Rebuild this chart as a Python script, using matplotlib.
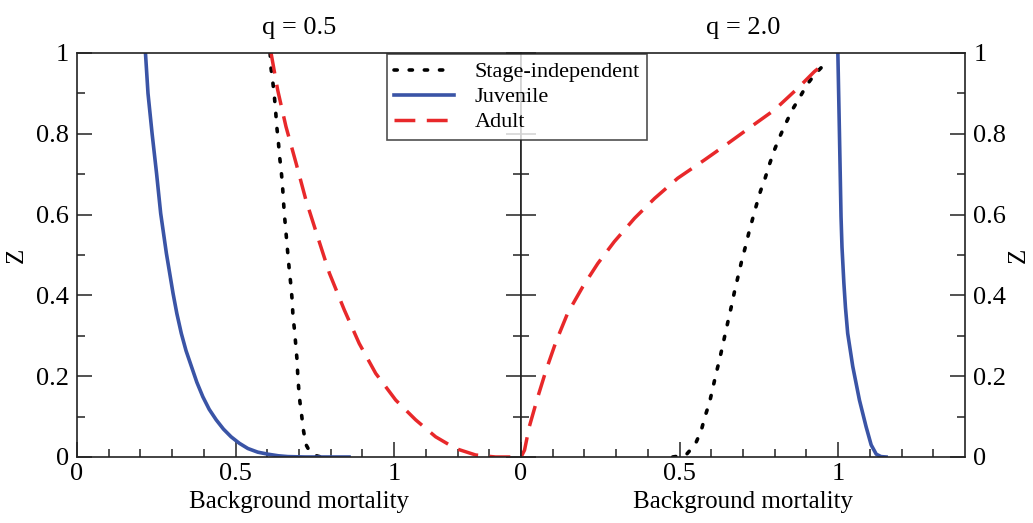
import matplotlib
matplotlib.use('Agg')
import matplotlib.pyplot as plt
from matplotlib.lines import Line2D

plt.rcParams['font.family'] = ['Liberation Serif', 'DejaVu Serif']

# ---- data (x = background mortality, y = Z) ----
# q = 0.5
juv_a_x = [0.216, 0.224, 0.237, 0.251, 0.264, 0.282, 0.303, 0.315, 0.329, 0.344,
           0.361, 0.378, 0.397, 0.417, 0.439, 0.462, 0.486, 0.512, 0.539, 0.570,
           0.602, 0.635, 0.665, 0.720, 0.858]
juv_a_z = [1.0, 0.90, 0.80, 0.702, 0.603, 0.504, 0.405, 0.355, 0.306, 0.263,
           0.224, 0.185, 0.149, 0.118, 0.092, 0.069, 0.050, 0.034, 0.021, 0.012,
           0.007, 0.003, 0.001, 0.0, 0.0]
ind_a_x = [0.609, 0.612, 0.618, 0.623, 0.627, 0.630, 0.635, 0.639, 0.644, 0.648,
           0.651, 0.654, 0.658, 0.662, 0.666, 0.670, 0.675, 0.679, 0.681, 0.686,
           0.690, 0.694, 0.696, 0.699, 0.703, 0.709, 0.714, 0.722, 0.735, 0.755,
           0.770]
ind_a_z = [1.0, 0.962, 0.925, 0.888, 0.851, 0.818, 0.781, 0.743, 0.709, 0.673,
           0.636, 0.601, 0.566, 0.529, 0.494, 0.459, 0.422, 0.384, 0.350, 0.314,
           0.277, 0.240, 0.207, 0.172, 0.137, 0.100, 0.067, 0.031, 0.012, 0.003,
           0.0]
adu_a_x = [0.612, 0.633, 0.659, 0.691, 0.722, 0.759, 0.796, 0.843, 0.890, 0.942,
           1.005, 1.068, 1.131, 1.194, 1.257, 1.320, 1.400]
adu_a_z = [1.0, 0.908, 0.818, 0.727, 0.636, 0.545, 0.455, 0.364, 0.281, 0.207,
           0.141, 0.092, 0.050, 0.021, 0.005, 0.0, 0.0]

# q = 2.0
juv_b_x = [0.999, 1.004, 1.009, 1.012, 1.018, 1.023, 1.030, 1.046, 1.067, 1.088,
           1.104, 1.120, 1.135, 1.151]
juv_b_z = [1.0, 0.801, 0.595, 0.520, 0.430, 0.370, 0.306, 0.224, 0.141, 0.075,
           0.030, 0.007, 0.001, 0.0]
ind_b_x = [0.478, 0.520, 0.549, 0.568, 0.580, 0.594, 0.604, 0.614, 0.625, 0.635,
           0.645, 0.655, 0.665, 0.674, 0.685, 0.695, 0.707, 0.718, 0.730, 0.742,
           0.755, 0.770, 0.784, 0.799, 0.816, 0.835, 0.855, 0.878, 0.902, 0.927,
           0.962]
ind_b_z = [0.0, 0.005, 0.031, 0.065, 0.100, 0.134, 0.168, 0.203, 0.238, 0.273,
           0.309, 0.344, 0.379, 0.413, 0.449, 0.483, 0.519, 0.554, 0.589, 0.623,
           0.658, 0.691, 0.726, 0.760, 0.793, 0.826, 0.859, 0.889, 0.922, 0.948,
           0.976]
adu_b_x = [0.0, 0.011, 0.026, 0.053, 0.079, 0.110, 0.147, 0.195, 0.242, 0.294,
           0.358, 0.421, 0.494, 0.578, 0.652, 0.726, 0.799, 0.873, 0.925, 0.957]
adu_b_z = [0.0, 0.017, 0.075, 0.149, 0.215, 0.285, 0.356, 0.422, 0.479, 0.533,
           0.591, 0.640, 0.690, 0.735, 0.776, 0.818, 0.859, 0.913, 0.954, 0.974]

titles = ['q = 0.5', 'q = 2.0']
x_ticks = [0, 0.5, 1]
x_ticklabels = ['0', '0.5', '1']
y_ticks = [0, 0.2, 0.4, 0.6, 0.8, 1.0]
y_ticklabels = ['0', '0.2', '0.4', '0.6', '0.8', '1']
x_minor = [0.1, 0.2, 0.3, 0.4, 0.6, 0.7, 0.8, 0.9, 1.1, 1.2, 1.3]
y_minor = [0.1, 0.3, 0.5, 0.7, 0.9]

BLUE = '#3a54a6'
RED = '#e8282a'
dot_style = (0, (0.9, 3.3))
dash_style = (0, (6, 3.3))

fig = plt.figure(figsize=(10.33, 5.23), dpi=100)
ax1 = fig.add_axes([0.0745, 0.1262, 0.4298, 0.7725])
ax2 = fig.add_axes([0.5044, 0.1262, 0.4298, 0.7725])

ax1.plot(ind_a_x, ind_a_z, color='black', lw=2.6, ls=dot_style, dash_capstyle='round')
ax1.plot(juv_a_x, juv_a_z, color=BLUE, lw=2.6)
ax1.plot(adu_a_x, adu_a_z, color=RED, lw=2.5, ls=dash_style)

ax2.plot(ind_b_x, ind_b_z, color='black', lw=2.6, ls=dot_style, dash_capstyle='round')
ax2.plot(juv_b_x, juv_b_z, color=BLUE, lw=2.6)
ax2.plot(adu_b_x, adu_b_z, color=RED, lw=2.5, ls=dash_style)

for ax, title in zip([ax1, ax2], titles):
    ax.set_xlim(0, 1.4)
    ax.set_ylim(0, 1)
    ax.set_xticks(x_ticks)
    ax.set_xticklabels(x_ticklabels)
    ax.set_xticks(x_minor, minor=True)
    ax.set_yticks(y_ticks)
    ax.set_yticklabels(y_ticklabels)
    ax.set_yticks(y_minor, minor=True)
    ax.tick_params(which='both', direction='in', top=False, bottom=True,
                   left=True, right=True, width=1.1, color='#222222',
                   labelsize=19)
    ax.tick_params(which='major', length=11)
    ax.tick_params(which='minor', length=6)
    ax.tick_params(axis='x', pad=4)
    ax.tick_params(axis='y', pad=6)
    for sp in ax.spines.values():
        sp.set_linewidth(1.2)
        sp.set_color('#222222')
    ax.set_title(title, fontsize=19, pad=14)
    ax.set_xlabel('Background mortality', fontsize=18, labelpad=5)

ax1.set_ylabel('Z', fontsize=18, labelpad=6)
ax2.tick_params(axis='y', labelleft=False, labelright=True)
ax2.yaxis.set_label_position('right')
ax2.set_ylabel('Z', fontsize=18, labelpad=1)

handles = [
    Line2D([], [], color='black', lw=2.6, ls=dot_style, dash_capstyle='round'),
    Line2D([], [], color=BLUE, lw=2.6),
    Line2D([], [], color=RED, lw=2.5, ls=dash_style),
]
leg = fig.legend(handles, ['Stage-independent', 'Juvenile', 'Adult'],
                 loc='upper center', bbox_to_anchor=(517 / 1033, 1 - 54 / 523),
                 fontsize=16, frameon=True, fancybox=False, edgecolor='#222222',
                 handlelength=2.7, handletextpad=0.9, labelspacing=0.2,
                 borderpad=0.35, borderaxespad=0)
leg.get_frame().set_linewidth(1.2)

fig.savefig('out.png', dpi=100)
